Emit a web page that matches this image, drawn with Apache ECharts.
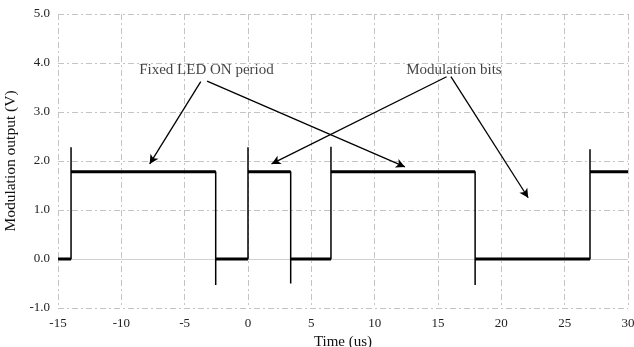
<!DOCTYPE html>
<html>
<head>
<meta charset="utf-8">
<script src="https://cdn.jsdelivr.net/npm/echarts@6/dist/echarts.min.js"></script>
<style>html,body{margin:0;padding:0;background:#fff}#c{width:634px;height:347px}</style>
</head>
<body>
<div id="c"></div>
<script>
// Signal (time in us, output in V)
const timeUs = [-15, -13.97, -13.97, -13.97, -2.55, -2.55, -2.55, 0, 0, 0, 3.37, 3.37, 3.37, 6.55, 6.55, 6.55, 17.93, 17.93, 17.93, 27.0, 27.0, 27.0, 30];
const voltage = [0, 0, 2.28, 1.78, 1.78, -0.53, 0, 0, 2.28, 1.78, 1.78, -0.50, 0, 0, 2.29, 1.78, 1.78, -0.53, 0, 0, 2.24, 1.78, 1.78];

// Axis ticks
const xTicks = [-15, -10, -5, 0, 5, 10, 15, 20, 25, 30];
const yTicks = [-1, 0, 1, 2, 3, 4, 5];

// Annotations
const labelTexts = ['Fixed LED ON period', 'Modulation bits'];
const labelX = [-3.28, 16.26];
const labelY = [3.86, 3.86];
const arrowStartX = [-3.73, -3.23, 15.68, 16.02];
const arrowStartY = [3.62, 3.63, 3.72, 3.72];
const arrowEndX = [-7.76, 12.39, 1.86, 22.12];
const arrowEndY = [1.94, 1.88, 1.94, 1.25];

const FONT = '"Liberation Serif", "DejaVu Serif", serif';

const signal = timeUs.map((t, i) => [t, voltage[i]]);
// plateau segments (noise band drawn thicker)
const plateaus = [];
for (let i = 0; i < timeUs.length - 1; i++) {
  if (voltage[i] === voltage[i + 1] && timeUs[i] !== timeUs[i + 1]) {
    plateaus.push([timeUs[i], voltage[i]], [timeUs[i + 1], voltage[i + 1]], [null, null]);
  }
}
const arrows = arrowStartX.map((x, i) => [
  { coord: [x, arrowStartY[i]] },
  { coord: [arrowEndX[i], arrowEndY[i]] }
]);
const labels = labelTexts.map((s, i) => ({ value: [labelX[i], labelY[i]], name: s }));

const gridLine = { show: true, lineStyle: { color: '#c4c4c4', width: 1, type: [6, 3, 2, 3] } };

const chart = echarts.init(document.getElementById('c'));
chart.setOption({
  animation: false,
  backgroundColor: '#fff',
  grid: { left: 58, right: 6, top: 14, bottom: 39, containLabel: false, outerBoundsMode: 'none' },
  xAxis: {
    type: 'value', min: xTicks[0], max: xTicks[xTicks.length - 1], interval: 5,
    name: 'Time (us)', nameLocation: 'middle', nameGap: 27,
    nameTextStyle: { fontFamily: FONT, fontSize: 15, color: '#111' },
    axisLine: { show: false }, axisTick: { show: false },
    axisLabel: { fontFamily: FONT, fontSize: 13, color: '#222', margin: 9 },
    splitLine: gridLine
  },
  yAxis: {
    type: 'value', min: yTicks[0], max: yTicks[yTicks.length - 1], interval: 1,
    name: 'Modulation output (V)', nameLocation: 'middle', nameGap: 31,
    nameTextStyle: { fontFamily: FONT, fontSize: 15.5, color: '#111' },
    axisLine: { show: false }, axisTick: { show: false },
    axisLabel: { fontFamily: FONT, fontSize: 13, color: '#222', margin: 8, formatter: v => v.toFixed(1) },
    splitLine: gridLine
  },
  series: [
    {
      type: 'line', data: signal, showSymbol: false, symbol: 'none',
      lineStyle: { color: '#000', width: 1.5 }, z: 3,
      markLine: {
        silent: true, symbol: 'none', label: { show: false },
        lineStyle: { color: '#d0d0d0', width: 1, type: 'solid' },
        data: [{ yAxis: 0 }], z: 1
      }
    },
    {
      type: 'line', data: plateaus, showSymbol: false, symbol: 'none', connectNulls: false,
      lineStyle: { color: '#000', width: 3 }, z: 4
    },
    {
      type: 'scatter', data: labels, symbolSize: 0, z: 5,
      label: {
        show: true, position: 'inside', formatter: p => p.name,
        fontFamily: FONT, fontSize: 15, color: '#111'
      },
      markLine: {
        silent: true, symbol: ['none', 'arrow'], symbolSize: [7, 9],
        label: { show: false },
        lineStyle: { color: '#000', width: 1.3, type: 'solid' },
        data: arrows
      }
    }
  ]
});
</script>
</body>
</html>
